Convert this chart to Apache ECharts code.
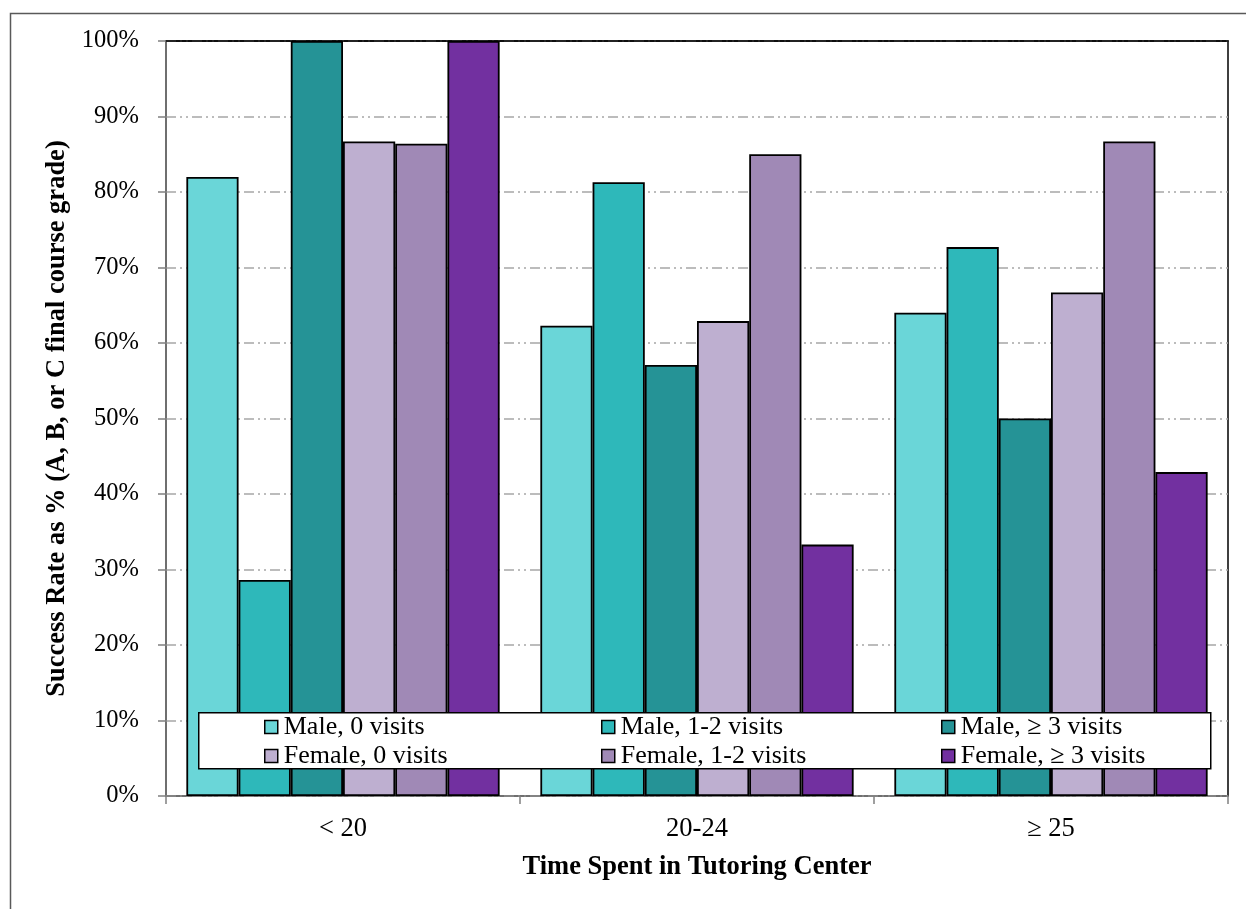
<!DOCTYPE html>
<html>
<head>
<meta charset="utf-8">
<script src="https://cdn.jsdelivr.net/npm/echarts@6/dist/echarts.min.js"></script>
<style>
html,body{margin:0;padding:0;background:#fff;}
#main{width:1246px;height:909px;}
</style>
</head>
<body>
<div id="main"></div>
<script>
var categories = ['< 20', '20-24', '\u2265 25'];
var seriesNames = ['Male, 0 visits', 'Male, 1-2 visits', 'Male, \u2265 3 visits',
                   'Female, 0 visits', 'Female, 1-2 visits', 'Female, \u2265 3 visits'];
var male0 = [82.0, 62.3, 64.0];
var male12 = [28.6, 81.3, 72.7];
var male3 = [100, 57.1, 50.0];
var female0 = [86.7, 62.9, 66.7];
var female12 = [86.4, 85.0, 86.7];
var female3 = [100, 33.3, 42.9];
var yTicks = [0, 10, 20, 30, 40, 50, 60, 70, 80, 90, 100];

var colors = ['#6AD6D8', '#2EB8BA', '#259396', '#BEAFD0', '#A089B6', '#7230A0'];
var values = [male0, male12, male3, female0, female12, female3];
var FONT = '"Liberation Serif", "Times New Roman", serif';

var series = seriesNames.map(function (n, i) {
  return {
    name: n,
    type: 'bar',
    xAxisIndex: 0,
    data: values[i],
    barGap: '0%',
    barCategoryGap: '11.5%',
    itemStyle: { color: colors[i], borderColor: '#000', borderWidth: 1.8 }
  };
});

function legendCol(names, left) {
  return {
    data: names,
    orient: 'vertical',
    left: left,
    top: 714,
    padding: 0,
    itemWidth: 13,
    itemHeight: 13,
    itemGap: 3,
    icon: 'rect',
    z: 10,
    itemStyle: { borderColor: '#000', borderWidth: 1.5 },
    textStyle: { fontFamily: FONT, fontSize: 26, color: '#000', padding: [0, 0, 0, 1] }
  };
}

var chart = echarts.init(document.getElementById('main'));
chart.setOption({
  backgroundColor: '#fff',
  animation: false,
  color: colors,
  grid: { left: 166, top: 41, right: 18, bottom: 113, show: true, borderColor: '#000', borderWidth: 1.5, backgroundColor: 'transparent' },
  legend: [
    legendCol([seriesNames[0], seriesNames[3]], 264),
    legendCol([seriesNames[1], seriesNames[4]], 601),
    legendCol([seriesNames[2], seriesNames[5]], 941)
  ],
  graphic: [
    { type: 'rect', left: 8, top: 11, shape: { width: 1260, height: 920 }, style: { fill: 'none', stroke: '#595959', lineWidth: 1.5 }, z: 0, silent: true },
    { type: 'rect', left: 198, top: 712, shape: { width: 1012, height: 56 }, style: { fill: '#fff', stroke: '#000', lineWidth: 1.5 }, z: 5, silent: true }
  ],
  xAxis: [{
    type: 'category',
    data: categories,
    name: 'Time Spent in Tutoring Center',
    nameLocation: 'middle',
    nameGap: 58,
    nameTextStyle: { fontFamily: FONT, fontSize: 26.5, fontWeight: 'bold', color: '#000' },
    axisLine: { lineStyle: { color: '#808080', width: 1.5 } },
    axisTick: { show: true, length: 8, lineStyle: { color: '#808080', width: 1.5 } },
    axisLabel: { fontFamily: FONT, fontSize: 26.5, color: '#000', margin: 20 }
  }, {
    type: 'category',
    data: categories,
    position: 'top',
    axisLine: { show: true, lineStyle: { color: '#000', width: 1.5 } },
    axisTick: { show: false },
    axisLabel: { show: false }
  }],
  yAxis: {
    type: 'value',
    min: yTicks[0],
    max: yTicks[yTicks.length - 1],
    interval: 10,
    name: 'Success Rate as % (A, B, or C final course grade)',
    nameLocation: 'middle',
    nameGap: 90,
    nameTextStyle: { fontFamily: FONT, fontSize: 26.5, fontWeight: 'bold', color: '#000' },
    axisLine: { show: true, lineStyle: { color: '#808080', width: 1.5 } },
    axisTick: { show: true, length: 8, lineStyle: { color: '#808080', width: 1.5 } },
    axisLabel: { fontFamily: FONT, fontSize: 24.5, color: '#000', margin: 27, formatter: '{value}%' },
    splitLine: { show: true, lineStyle: { color: '#A6A6A6', width: 1.5, type: [10, 4, 2, 4, 2, 4] } }
  },
  series: series
});
</script>
</body>
</html>
